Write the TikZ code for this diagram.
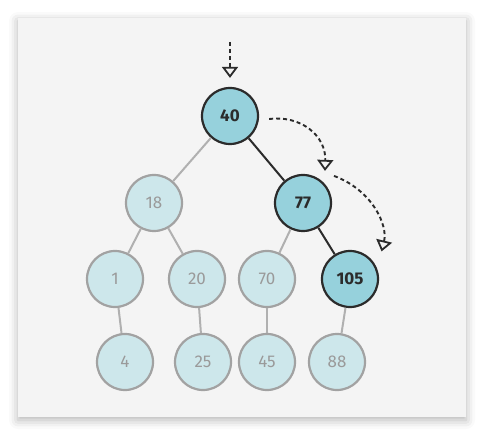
\documentclass[tikz,border=0pt]{standalone}
\usepackage{fontspec}
\setmainfont{Fira Sans}
\usetikzlibrary{arrows.meta,calc,shadows.blur}

\definecolor{hotfill}{HTML}{96D1DC}
\definecolor{coldfill}{HTML}{CDE7EB}
\definecolor{colddraw}{HTML}{A2A2A2}
\definecolor{coldtext}{HTML}{9A9A9A}
\definecolor{inkdark}{HTML}{2B2B2B}
\definecolor{panelbg}{HTML}{F4F4F4}

\begin{document}
\begin{tikzpicture}[x=1pt, y=-1pt,
    hot/.style={circle, draw=inkdark, line width=2.2pt, fill=hotfill, minimum size=56pt, inner sep=0pt, font=\fontsize{17}{19}\selectfont\bfseries, text=inkdark},
    cold/.style={circle, draw=colddraw, line width=2.2pt, fill=coldfill, minimum size=56pt, inner sep=0pt, font=\fontsize{17}{19}\selectfont, text=coldtext},
    hedge/.style={line width=2pt, inkdark},
    cedge/.style={line width=2pt, colddraw!85},
    walk/.style={-{Triangle[open, length=11pt, width=16pt, line width=1.8pt]}, line width=1.9pt, inkdark, dash pattern=on 4pt off 3pt}
]
\useasboundingbox (0,0) rectangle (484,435);
\fill[panelbg, blur shadow={shadow xshift=0pt, shadow yshift=-3pt, shadow blur radius=9pt, shadow opacity=30}] (18,18) rectangle (466,417);

% nodes
\node[hot]  (n40)  at (230,116) {40};
\node[cold] (n18)  at (154,203) {18};
\node[hot]  (n77)  at (303,203) {77};
\node[cold] (n1)   at (115,279) {1};
\node[cold] (n20)  at (197,279) {20};
\node[cold] (n70)  at (267,279) {70};
\node[hot]  (n105) at (350,279) {105};
\node[cold] (n4)   at (125,362) {4};
\node[cold] (n25)  at (203,362) {25};
\node[cold] (n45)  at (267,362) {45};
\node[cold] (n88)  at (337,362) {88};

% edges
\draw[cedge] (n40) -- (n18);
\draw[hedge] (n40) -- (n77);
\draw[cedge] (n18) -- (n1);
\draw[cedge] (n18) -- (n20);
\draw[cedge] (n77) -- (n70);
\draw[hedge] (n77) -- (n105);
\draw[cedge] (n1) -- (n4);
\draw[cedge] (n20) -- (n25);
\draw[cedge] (n70) -- (n45);
\draw[cedge] (n105) -- (n88);

% search path
\coordinate (entry) at (230,42);
\draw[walk] (entry) -- ($(n40.north)+(0,-9)$);
\draw[walk] ($(n40.east)+(10,3)$) .. controls (300,115) and (326,135) .. ($(n77.north)+(22,-3)$);
\draw[walk] ($(n77.north)+(31,2)$) .. controls (372,190) and (388,225) .. ($(n105.north east)+(11,-7)$);
\end{tikzpicture}
\end{document}
